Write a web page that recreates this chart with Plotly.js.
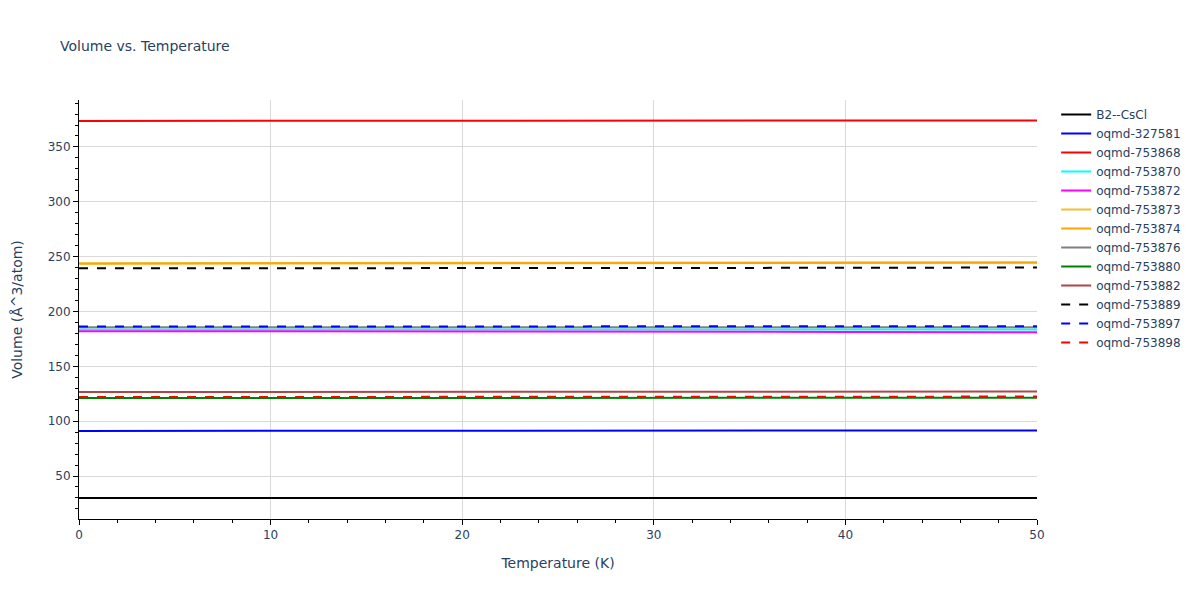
<!DOCTYPE html>
<html>
<head>
<meta charset="utf-8">
<script src="https://cdn.plot.ly/plotly-3.0.1.min.js"></script>
<style>body{margin:0;}#chart{width:1200px;height:600px;}</style>
</head>
<body>
<div id="chart"></div>
<script>
// temperatures (K)
const temps = [0, 10, 20, 30, 40, 50];

// series names, volumes (Å^3/atom) at each temperature
const names = ["B2--CsCl", "oqmd-327581", "oqmd-753868", "oqmd-753870", "oqmd-753872",
  "oqmd-753873", "oqmd-753874", "oqmd-753876", "oqmd-753880", "oqmd-753882",
  "oqmd-753889", "oqmd-753897", "oqmd-753898"];
const vB2 = [30.0, 30.0, 30.0, 30.0, 30.0, 30.0];
const v327581 = [91.1, 91.1, 91.2, 91.3, 91.4, 91.5];
const v753868 = [373.7, 373.7, 373.8, 373.9, 374.0, 374.2];
const v753870 = [183.6, 183.6, 183.6, 183.6, 183.6, 183.6];
const v753872 = [182.0, 182.0, 181.9, 181.7, 181.4, 181.0];
const v753873 = [244.0, 244.1, 244.2, 244.4, 244.6, 244.9];
const v753874 = [243.6, 243.7, 243.8, 244.0, 244.2, 244.5];
const v753876 = [185.6, 185.6, 185.6, 185.6, 185.6, 185.6];
const v753880 = [121.1, 121.1, 121.1, 121.2, 121.2, 121.3];
const v753882 = [126.6, 126.6, 126.7, 126.8, 126.9, 127.0];
const v753889 = [239.3, 239.3, 239.4, 239.6, 239.8, 240.1];
const v753897 = [186.2, 186.2, 186.3, 186.4, 186.5, 186.6];
const v753898 = [122.0, 122.0, 122.1, 122.2, 122.3, 122.4];
const values = [vB2, v327581, v753868, v753870, v753872, v753873, v753874,
  v753876, v753880, v753882, v753889, v753897, v753898];

const colors = ["black", "blue", "red", "cyan", "magenta", "#f0c030", "orange",
  "gray", "green", "#b04545", "black", "blue", "red"];
const dashes = ["solid", "solid", "solid", "solid", "solid", "solid", "solid",
  "solid", "solid", "solid", "dash", "dash", "dash"];

const traces = names.map((n, i) => ({
  x: temps,
  y: values[i],
  name: n,
  type: 'scatter',
  mode: 'lines',
  line: {color: colors[i], width: 2, dash: dashes[i]}
}));

const layout = {
  width: 1200,
  height: 600,
  font: {family: '"DejaVu Sans", Verdana, sans-serif', size: 12, color: '#2a3f5f'},
  title: {text: "Volume vs. Temperature", x: 0.05, y: 0.932, font: {size: 14}},
  margin: {l: 79, r: 163, t: 100, b: 81},
  plot_bgcolor: 'white',
  paper_bgcolor: 'white',
  xaxis: {
    title: {text: "Temperature (K)", font: {size: 14}, standoff: 16},
    range: [0, 50],
    showline: true, linecolor: 'black', linewidth: 1,
    ticks: 'outside', ticklen: 5, tickcolor: 'black',
    gridcolor: '#d9d9d9', zeroline: false,
    minor: {ticks: 'outside', ticklen: 3, tickcolor: 'black', dtick: 2, showgrid: false}
  },
  yaxis: {
    title: {text: "Volume (Å^3/atom)", font: {size: 14}, standoff: 21},
    range: [10.8, 392.8],
    showline: true, linecolor: 'black', linewidth: 1,
    ticks: 'outside', ticklen: 5, tickcolor: 'black',
    gridcolor: '#d9d9d9', zeroline: false, dtick: 50,
    minor: {ticks: 'outside', ticklen: 3, tickcolor: 'black', dtick: 10, showgrid: false}
  },
  legend: {x: 1.02, y: 1}
};

Plotly.newPlot('chart', traces, layout, {displayModeBar: false});
</script>
</body>
</html>
